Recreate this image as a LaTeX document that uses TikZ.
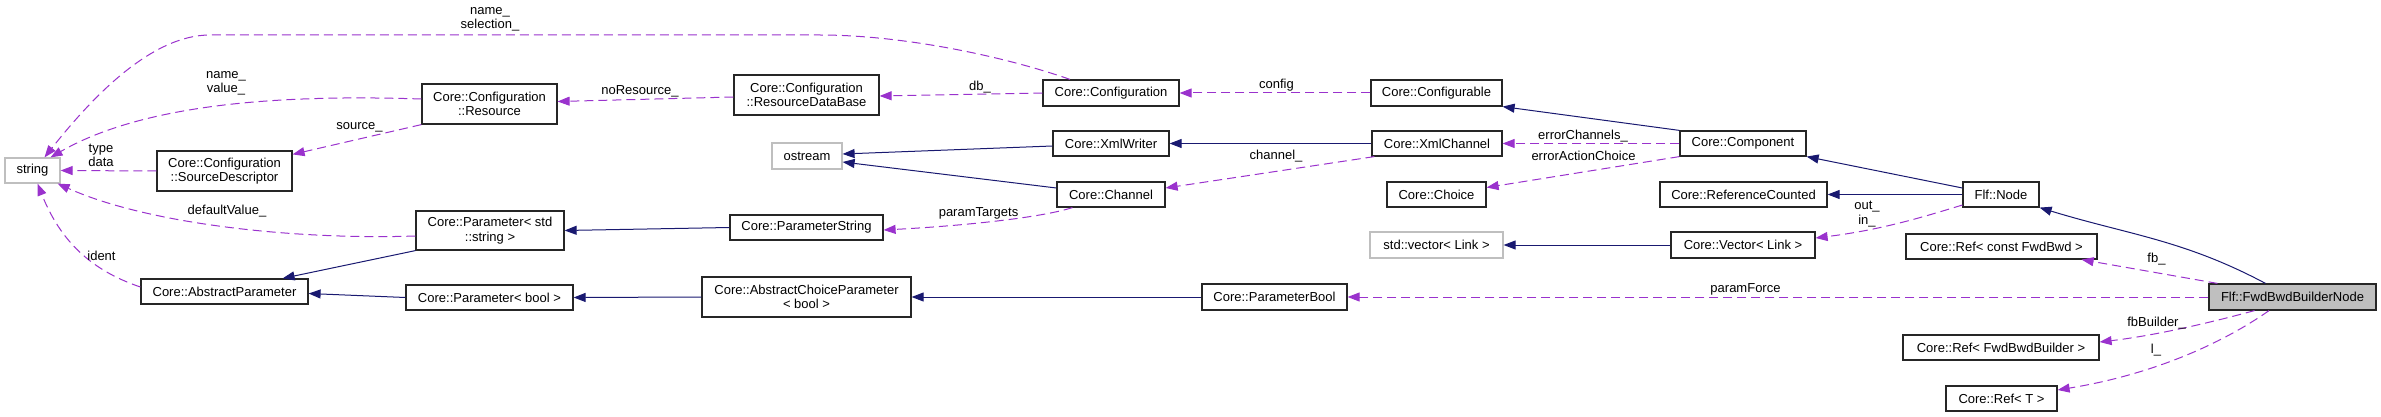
\documentclass[tikz,border=0pt]{standalone}
\usepackage{fontspec}
\setmainfont{Liberation Sans}
\usetikzlibrary{arrows.meta}
\definecolor{inhc}{HTML}{191970}
\definecolor{usec}{HTML}{9A32CD}
\definecolor{grayb}{HTML}{BFBFBF}
\begin{document}
\begin{tikzpicture}[x=1pt,y=-1pt,
  font=\fontsize{13}{14.5}\selectfont,
  box/.style={draw=black!85, line width=1.2pt, fill=white, inner sep=0pt, align=center, minimum height=25pt},
  extbox/.style={box, draw=grayb},
  inh/.style={draw=inhc, line width=1pt, -{Triangle[length=12pt,width=9pt]}},
  use/.style={draw=usec, line width=1pt, dash pattern=on 9pt off 5pt, -{Triangle[length=12pt,width=9pt]}},
  lbl/.style={inner sep=0pt, align=center}
]
\useasboundingbox (0,0) rectangle (2381,417);

% nodes
\node[extbox, minimum width=55pt] (str) at (32.5,170.5) {string};
\node[box, minimum width=135pt, minimum height=40pt] (srcd) at (224.5,171) {Core::Configuration\\::SourceDescriptor};
\node[box, minimum width=135pt, minimum height=40pt] (res) at (489.5,104) {Core::Configuration\\::Resource};
\node[box, minimum width=148pt, minimum height=39pt] (pstr) at (490,230.5) {Core::Parameter< std\\::string >};
\node[box, minimum width=167pt] (absp) at (224.5,291.5) {Core::AbstractParameter};
\node[box, minimum width=167pt] (pbt) at (489.5,297.5) {Core::Parameter< bool >};
\node[box, minimum width=145pt, minimum height=40pt] (rdb) at (806.5,95) {Core::Configuration\\::ResourceDataBase};
\node[extbox, minimum width=70pt, minimum height=26pt] (ostr) at (807,156) {ostream};
\node[box, minimum width=153pt] (pstring) at (806.5,227.5) {Core::ParameterString};
\node[box, minimum width=209pt, minimum height=40pt] (acp) at (806.5,297) {Core::AbstractChoiceParameter\\< bool >};
\node[box, minimum width=136pt, minimum height=26pt] (conf) at (1111,93) {Core::Configuration};
\node[box, minimum width=116pt] (xw) at (1111,143.5) {Core::XmlWriter};
\node[box, minimum width=108pt] (chan) at (1111,194.5) {Core::Channel};
\node[box, minimum width=145pt, minimum height=26pt] (pbool) at (1274.5,297) {Core::ParameterBool};
\node[box, minimum width=131pt, minimum height=26pt] (cfgb) at (1436.5,93) {Core::Configurable};
\node[box, minimum width=130pt] (xc) at (1437,143.5) {Core::XmlChannel};
\node[box, minimum width=99pt] (choice) at (1436.5,194.5) {Core::Choice};
\node[extbox, minimum width=133pt, minimum height=26pt] (svec) at (1436.5,245) {std::vector< Link >};
\node[box, minimum width=126pt] (comp) at (1743,143.5) {Core::Component};
\node[box, minimum width=167pt] (rc) at (1743.5,194.5) {Core::ReferenceCounted};
\node[box, minimum width=144pt, minimum height=26pt] (cvec) at (1743,245) {Core::Vector< Link >};
\node[box, minimum width=76pt] (fnode) at (2001,194.5) {Flf::Node};
\node[box, minimum width=191pt] (rfb) at (2001.5,246.5) {Core::Ref< const FwdBwd >};
\node[box, minimum width=167pt, minimum height=26pt, fill=grayb] (fbn) at (2292.5,297) {Flf::FwdBwdBuilderNode};
\node[box, minimum width=196pt] (rfbb) at (2001,347.5) {Core::Ref< FwdBwdBuilder >};
\node[box, minimum width=111pt] (rt) at (2001.5,398.5) {Core::Ref< T >};

% inheritance
\draw[inh] (pstr.south west) -- ([xshift=-26pt]absp.north east);
\draw[inh] (pbt.west) -- ([yshift=-2pt]absp.east);
\draw[inh] (pstring.west) -- (pstr.east);
\draw[inh] (acp.west) -- (pbt.east);
\draw[inh] (pbool.west) -- (acp.east);
\draw[inh] ([yshift=-2.5pt]xw.west) -- ([yshift=2pt]ostr.east);
\draw[inh] ([yshift=6.5pt]chan.west) -- ([yshift=-6pt]ostr.east);
\draw[inh] (xc.west) -- (xw.east);
\draw[inh] (comp.north west) -- (cfgb.south east);
\draw[inh] ([yshift=6.5pt]fnode.west) -- (comp.south east);
\draw[inh] (fnode.west) -- (rc.east);
\draw[inh] (cvec.west) -- (svec.east);
\draw[inh] ([xshift=-27pt]fbn.north) to[out=152,in=-17] (fnode.south east);

% usage
\draw[use] ([xshift=-41pt]conf.north) .. controls (1000,55) and (900,35) .. (820,35) -- (210,35) .. controls (150,35) and (90,100) .. ([xshift=12pt]str.north);
\draw[use] ([yshift=5pt]res.west) .. controls (300,95) and (150,100) .. ([xshift=18pt]str.north);
\draw[use] (srcd.west) -- (str.east);
\draw[use] ([yshift=-5.5pt]pstr.west) .. controls (300,240) and (150,225) .. ([xshift=-3pt]str.south east);
\draw[use] ([yshift=4.5pt]absp.west) .. controls (90,270) and (60,240) .. ([xshift=5pt]str.south);
\draw[use] (res.south west) -- ([yshift=-4pt]srcd.north east);
\draw[use] ([yshift=-2pt]rdb.west) -- ([yshift=2.5pt]res.east);
\draw[use] (conf.west) -- ([yshift=-1pt]rdb.east);
\draw[use] (cfgb.west) -- (conf.east);
\draw[use] ([xshift=3pt]xc.south west) -- ([yshift=6.5pt]chan.east);
\draw[use] ([xshift=16pt]chan.south west) .. controls (1040,218) and (960,226) .. ([yshift=-2.5pt]pstring.east);
\draw[use] (comp.west) -- (xc.east);
\draw[use] (comp.south west) -- ([yshift=7pt]choice.east);
\draw[use] ([yshift=-10.5pt]fnode.west) .. controls (1920,218) and (1880,230) .. ([yshift=7pt]cvec.east);
\draw[use] (fbn.west) -- (pbool.east);
\draw[use] ([xshift=9pt]fbn.north west) -- ([xshift=-16pt]rfb.south east);
\draw[use] ([xshift=-38pt]fbn.south) .. controls (2220,320) and (2160,335) .. ([yshift=5.5pt]rfbb.east);
\draw[use] ([xshift=-23.5pt]fbn.south) .. controls (2220,345) and (2150,375) .. ([yshift=8.5pt]rt.east);

% labels
\node[lbl] (l1) at (490,19.5) {name\_\\selection\_};
\node[lbl] (l2) at (226,83.5) {name\_\\value\_};
\node[lbl] (l3) at (101,155.5) {type\\data};
\node[lbl] (l4) at (359.5,127) {source\_};
\node[lbl] (l5) at (227,211) {defaultValue\_};
\node[lbl] (l6) at (101.5,256) {ident};
\node[lbl] (l7) at (640,91) {noResource\_};
\node[lbl] (l8) at (980,87) {db\_};
\node[lbl] (l9) at (1276.5,85) {config};
\node[lbl] (l10) at (1276,156) {channel\_};
\node[lbl] (l11) at (978.5,213) {paramTargets};
\node[lbl] (l12) at (1583,136) {errorChannels\_};
\node[lbl] (l13) at (1583.5,156) {errorActionChoice};
\node[lbl] (l14) at (1745.5,289) {paramForce};
\node[lbl] (l15) at (1867,214) {out\_\\in\_};
\node[lbl] (l16) at (2156.5,259) {fb\_};
\node[lbl] (l17) at (2156.5,323) {fbBuilder\_};
\node[lbl] (l18) at (2156,350) {l\_};
\end{tikzpicture}
\end{document}
